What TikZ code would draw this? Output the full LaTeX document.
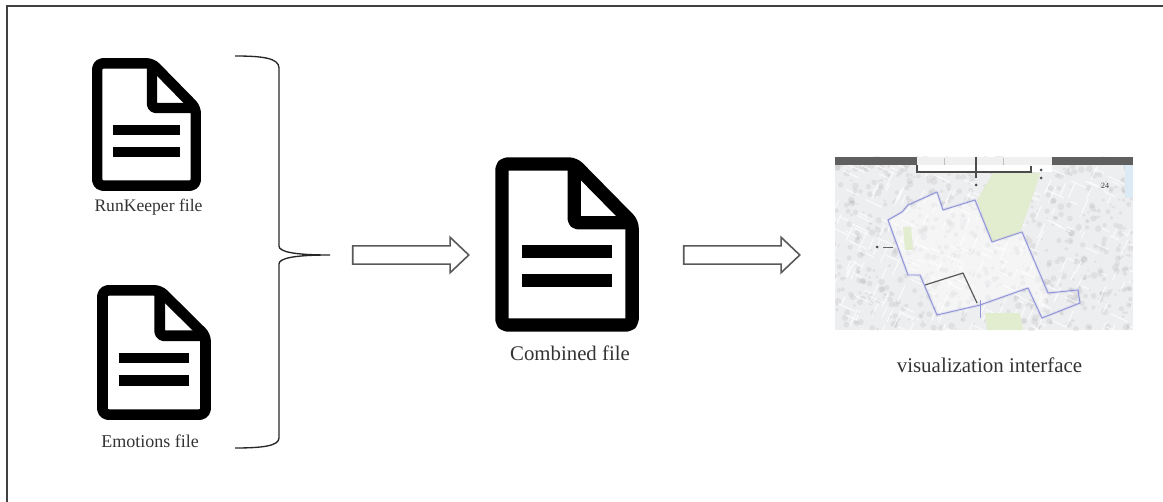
\documentclass[tikz,border=0pt]{standalone}
\usepackage{fontspec}
\setmainfont{Liberation Serif}
\usetikzlibrary{shapes.arrows}
\definecolor{mapbar}{HTML}{5F5F5F}
\definecolor{mapbg}{HTML}{EDEEF0}
\definecolor{mapgreen}{HTML}{E2ECCF}
\definecolor{mapblue}{HTML}{DCEAF6}
\definecolor{routeblue}{HTML}{8F93D8}
\tikzset{
    filelabel/.style={text=black!80, inner sep=0pt, font=\fontsize{#1}{#1}\selectfont},
    blockarrow/.style={single arrow, draw=black!65, fill=white, line width=1.2pt, minimum height=87pt,
        inner xsep=0pt, inner ysep=6.2pt, single arrow head extend=6.5pt, single arrow tip angle=87},
    routeline/.style={draw=routeblue, line width=.7pt, line join=round},
    routehalo/.style={draw=routeblue, line width=2.2pt, opacity=.15, line join=round},
    pics/docicon/.style={code={
        \draw[line join=round, rounded corners=4pt] (.048,.96) -- (.048,.04) -- (.55,.04) -- (.952,.376) -- (.952,.96) -- cycle;
        \draw[line join=round, rounded corners=3pt] (.55,.04) -- (.55,.376) -- (.952,.376);
        \draw (.19,.54) -- (.81,.54);
        \draw (.19,.707) -- (.81,.707);
    }}
}
\begin{document}
\begin{tikzpicture}[x=.75pt, y=-.75pt]
\useasboundingbox (0,0) rectangle (1163,502);

% Frame
\draw[black!75, line width=.9pt] (7,502) -- (7,6) -- (1163,6);

% File icons
\pic[xscale=109, yscale=133, line width=7.8pt] at (92,58) {docicon};
\pic[xscale=114, yscale=135, line width=8pt] at (97,285) {docicon};
\pic[xscale=144, yscale=175, line width=10pt] at (495,157) {docicon};

% Labels
\node[filelabel=13.2] (rk) at (148.5,207) {RunKeeper file};
\node[filelabel=13.5] (em) at (150,441) {Emotions file};
\node[filelabel=15.6] (cb) at (570,353) {Combined file};
\node[filelabel=15.7] (vi) at (989.5,365) {visualization interface};

% Bracket
\draw[black!85, line width=1pt] (235,56) .. controls (262,56) and (279,58) .. (279,68) -- (279,246)
    .. controls (279,252) and (295,255) .. (330,255) .. controls (295,255) and (279,258) .. (279,264)
    -- (279,438) .. controls (279,446) and (262,448) .. (235,448);

% Arrows
\node[blockarrow] (a1) at (406,255) {};
\node[blockarrow] (a2) at (737,255) {};

% Map
\begin{scope}
\clip (835,157) rectangle (1133,330);
\fill[mapbg] (835,157) rectangle (1133,330);
\pgfmathsetseed{42}
\foreach \i in {1,...,700} {
    \pgfmathsetmacro{\mx}{835+298*rnd}
    \pgfmathsetmacro{\my}{157+173*rnd}
    \pgfmathsetmacro{\mrad}{1+2.5*rnd}
    \fill[black!30, opacity=.22] (\mx,\my) circle (\mrad);
}
\foreach \i in {1,...,260} {
    \pgfmathsetmacro{\mx}{835+298*rnd}
    \pgfmathsetmacro{\my}{157+173*rnd}
    \pgfmathsetmacro{\mlen}{6+14*rnd}
    \pgfmathsetmacro{\mang}{25+90*int(2*rnd)}
    \draw[white, line width=.8pt, opacity=.75] (\mx,\my) -- ++(\mang:\mlen);
}
\fill[white, opacity=.45] (888,220) -- (937,192) -- (943,210) -- (975,200) -- (992,242) -- (1022,232) -- (1048,293)
    -- (1042,318) -- (1028,288) -- (980,305) -- (937,315) -- (920,275) -- (908,275) -- cycle;
\fill[mapgreen] (993,173) -- (1040,173) -- (1035,190) -- (1020,232) -- (992,242) -- (977,200) -- cycle;
\fill[mapgreen] (985,313) -- (1020,313) -- (1023,330) -- (987,330) -- cycle;
\fill[mapgreen] (903,227) -- (911,227) -- (913,250) -- (905,250) -- cycle;
\fill[mapblue] (1125,165) rectangle (1133,198);
\end{scope}
\fill[white] (917,157) rectangle (1052,172);
\fill[black!6] (917,157) rectangle (1052,165);
\fill[mapbar] (835,157) rectangle (917,165);
\fill[mapbar] (1052,157) rectangle (1133,165);

% Route
\draw[routehalo] (888,220) -- (902,212) -- (908,205) -- (937,192) -- (943,210) -- (975,200) -- (992,242) -- (1022,232)
    -- (1048,293) -- (1078,290) -- (1080,303) -- (1042,318) -- (1028,288) -- (980,305) -- (937,315) -- (920,275) -- (908,275) -- cycle;
\draw[routeline] (888,220) -- (902,212) -- (908,205) -- (937,192) -- (943,210) -- (975,200) -- (992,242) -- (1022,232)
    -- (1048,293) -- (1078,290) -- (1080,303) -- (1042,318) -- (1028,288) -- (980,305) -- (937,315) -- (920,275) -- (908,275) -- cycle;
\draw[routeline] (980,300) -- (980,318);
\draw[black!65, line width=.9pt, line join=round] (925,285) -- (963,273) -- (977,303);

% Map ruler and marks
\draw[black!70, line width=1pt] (917,165) -- (917,172) -- (1031,172) -- (1031,166);
\draw[black!70, line width=1pt] (976,157) -- (976,178);
\draw[black!25, line width=.7pt] (944,158) -- (944,165) (1003,158) -- (1003,165);
\fill[black!70] (976,185) circle (1.5) (1041,170) circle (1.5) (1041,178) circle (1.5) (877,247) circle (1.5);
\draw[black!60, line width=.6pt] (883,247) -- (893,247);
\node[inner sep=0pt, font=\fontsize{6}{6}\selectfont, text=black!80] (mk) at (1105,186) {24};
\end{tikzpicture}
\end{document}
